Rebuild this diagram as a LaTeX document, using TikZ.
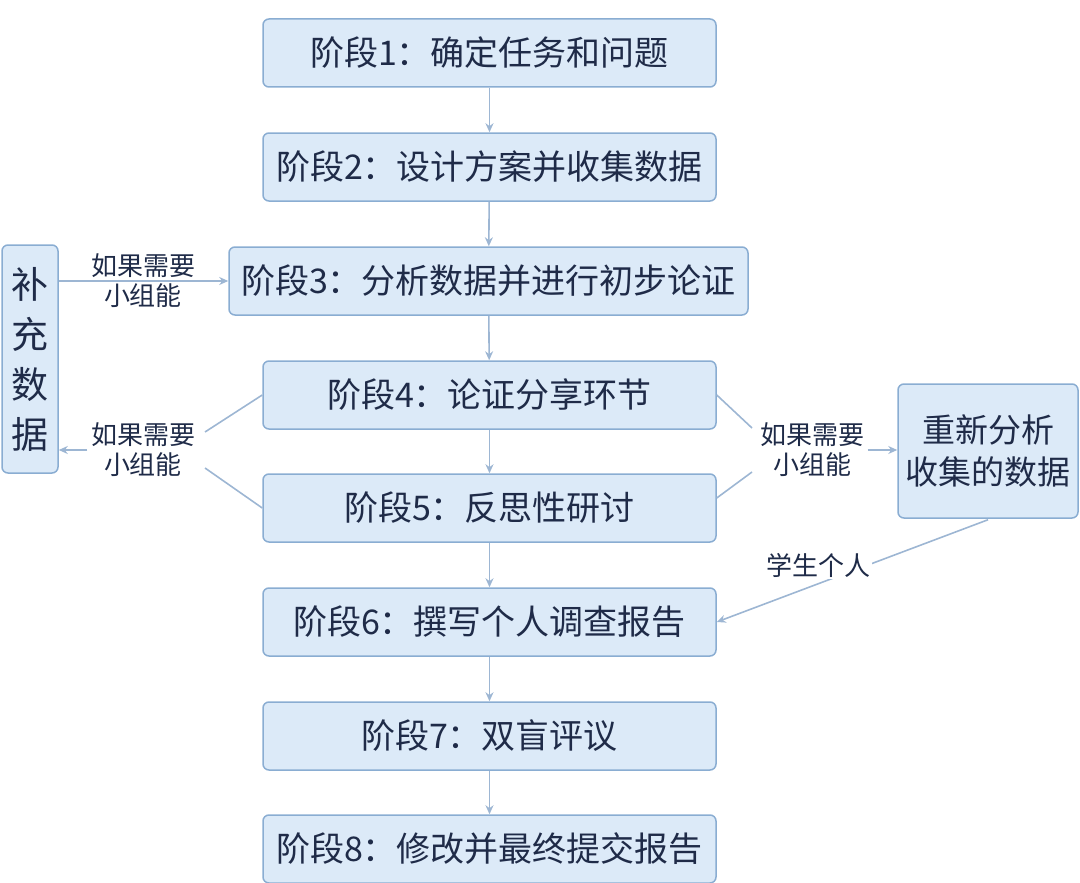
\documentclass[tikz,border=0pt]{standalone}
\usepackage{fontspec}
\setmainfont{Noto Sans CJK SC}
\usetikzlibrary{arrows.meta}
\definecolor{bfill}{HTML}{DCEAF8}
\definecolor{bdraw}{HTML}{8AADD2}
\definecolor{txt}{HTML}{1F2B48}
\definecolor{ln}{HTML}{9DB6D3}
\begin{document}
\begin{tikzpicture}[x=1pt,y=-1pt,
 stagebox/.style={draw=bdraw,fill=bfill,line width=1.5pt,rounded corners=6pt,minimum height=68pt,text=txt,font=\fontsize{34}{38}\selectfont,inner sep=0pt},
 lab/.style={text=txt,font=\fontsize{26}{30}\selectfont,align=center},
 conn/.style={draw=ln,line width=1.6pt},
 arr/.style={conn,-{Stealth[length=9pt,width=8pt]}}]
\useasboundingbox (0,0) rectangle (1080,883);
\node[stagebox,minimum width=453pt] (s1) at (489.5,53) {阶段1：确定任务和问题};
\node[stagebox,minimum width=453pt] (s2) at (489.5,167) {阶段2：设计方案并收集数据};
\node[stagebox,minimum width=519pt] (s3) at (488.5,281) {阶段3：分析数据并进行初步论证};
\node[stagebox,minimum width=453pt] (s4) at (489.5,395) {阶段4：论证分享环节};
\node[stagebox,minimum width=453pt] (s5) at (489.5,508) {阶段5：反思性研讨};
\node[stagebox,minimum width=453pt] (s6) at (489.5,622) {阶段6：撰写个人调查报告};
\node[stagebox,minimum width=453pt] (s7) at (489.5,736) {阶段7：双盲评议};
\node[stagebox,minimum width=453pt] (s8) at (489.5,849) {阶段8：修改并最终提交报告};
\node[stagebox,minimum width=56pt,minimum height=228pt,align=center,font=\fontsize{37}{50}\selectfont] (L) at (30,359) {补\\充\\数\\据};
\node[stagebox,minimum width=180pt,minimum height=134pt,align=center,font=\fontsize{33}{42}\selectfont] (R) at (988,451) {重新分析\\收集的数据};
\foreach \a/\b in {s1/s2,s2/s3,s3/s4,s4/s5,s5/s6,s6/s7,s7/s8} \draw[arr] (\a) -- (\b);
\node[lab] (l3) at (143,281) {如果需要\\小组能};
\draw[arr] (L.east |- s3) -- (s3.west);
\node[lab] (l45) at (143,450) {如果需要\\小组能};
\coordinate (la) at (205,432); \coordinate (lb) at (205,468);
\draw[conn] (s4.west) -- (la); \draw[conn] (s5.west) -- (lb);
\draw[arr] (l45.west) -- (L.east |- l45);
\node[lab] (r45) at (812,450) {如果需要\\小组能};
\coordinate (ra) at (752,428); \coordinate (rb) at (752,472);
\draw[conn] (s4.east) -- (ra); \draw[conn] (s5.east) ++(0,-10) -- (rb);
\draw[arr] (r45.east) -- (R.west |- r45);
\draw[arr] (R.south) ++(0,1) -- (s6.east);
\node[lab,fill=white,inner sep=2pt] (st) at (818,565) {学生个人};
\end{tikzpicture}
\end{document}
